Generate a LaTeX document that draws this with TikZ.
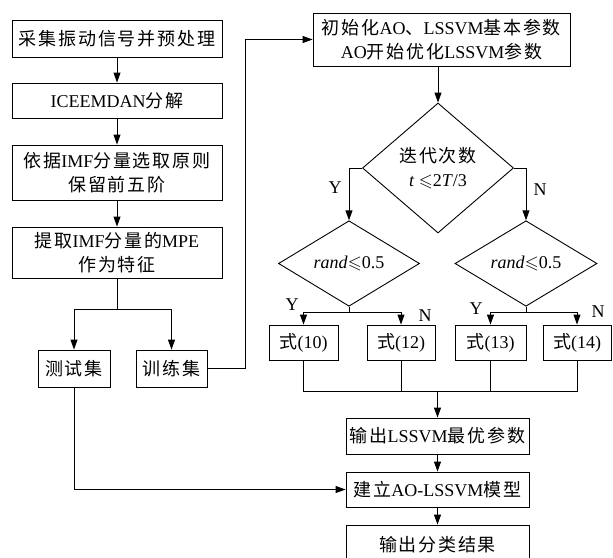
\documentclass[tikz,border=0pt]{standalone}
\usepackage{amssymb}
\usepackage{fontspec}
\setmainfont{Liberation Serif}
\newfontfamily\cjk[LetterSpace=10]{Noto Sans CJK SC}
\usetikzlibrary{shapes.geometric,arrows.meta}
\begin{document}
\begin{tikzpicture}[x=1pt,y=-1pt,
  every node/.style={font=\fontsize{18}{24}\selectfont},
  box/.style={draw, line width=0.9pt, inner sep=0pt, align=center},
  dia/.style={draw, line width=0.9pt, diamond, inner sep=0pt, align=center},
  conn/.style={line width=0.9pt},
  arr/.style={line width=0.9pt, -{Triangle[width=7pt,length=10pt]}},
  lab/.style={inner sep=0pt, font=\fontsize{18}{20}\selectfont}]
\useasboundingbox (0,0) rectangle (613,557);
\clip (0,0) rectangle (613,557);

% left column
\node[box, minimum width=210pt, minimum height=37pt] (b1) at (117,38.5) {{\cjk 采集振动信号并预处理}};
\node[box, minimum width=210pt, minimum height=35pt] (b2) at (117,100.5) {ICEEMDAN{\cjk 分解}};
\node[box, minimum width=210pt, minimum height=55pt] (b3) at (117,172.5) {{\cjk 依据}IMF{\cjk 分量选取原则}\\{\cjk 保留前五阶}};
\node[box, minimum width=210pt, minimum height=51pt] (b4) at (117,252.5) {{\cjk 提取}IMF{\cjk 分量的}MPE\\{\cjk 作为特征}};
\node[box, minimum width=72pt, minimum height=37pt] (test) at (74,368.5) {{\cjk 测试集}};
\node[box, minimum width=71pt, minimum height=37pt] (train) at (171.5,368.5) {{\cjk 训练集}};

% right part
\node[box, minimum width=257pt, minimum height=53pt] (init) at (441.5,39.5) {{\cjk 初始化}AO{\cjk 、}LSSVM{\cjk 基本参数}\\AO{\cjk 开始优化}LSSVM{\cjk 参数}};
\node[dia, minimum width=151pt, minimum height=130pt] (d1) at (438,168) {{\cjk 迭代次数}\\\textit{t} $\leqslant$2\textit{T}/3};
\node[dia, minimum width=141pt, minimum height=53pt] (d2) at (349,263.5) {\textit{rand}$\leqslant$0.5};
\node[dia, minimum width=142pt, minimum height=53pt] (d3) at (526,263.5) {\textit{rand}$\leqslant$0.5};
\node[box, minimum width=69pt, minimum height=35pt] (e10) at (303.5,342.5) {{\cjk 式}(10)};
\node[box, minimum width=68pt, minimum height=35pt] (e12) at (401,342.5) {{\cjk 式}(12)};
\node[box, minimum width=71pt, minimum height=35pt] (e13) at (490.5,342.5) {{\cjk 式}(13)};
\node[box, minimum width=68pt, minimum height=35pt] (e14) at (577,342.5) {{\cjk 式}(14)};
\node[box, minimum width=183pt, minimum height=36pt] (o1) at (437.5,436) {{\cjk 输出}LSSVM{\cjk 最优参数}};
\node[box, minimum width=183pt, minimum height=35pt] (o2) at (437.5,489.5) {{\cjk 建立}AO-LSSVM{\cjk 模型}};
\node[box, minimum width=183pt, minimum height=40pt] (o3) at (437.5,545) {{\cjk 输出分类结果}};

% labels
\node[lab] (ly1) at (335,188) {Y};
\node[lab] (ln1) at (540,190) {N};
\node[lab] (ly2) at (292,305) {Y};
\node[lab] (ln2) at (425,316) {N};
\node[lab] (ly3) at (476,309) {Y};
\node[lab] (ln3) at (598,312) {N};

% coordinates
\coordinate (split) at (117,309);
\coordinate (s2) at (349,312);
\coordinate (s3) at (526,312);
\coordinate (m) at (437.5,391);

% connectors left
\draw[arr] (b1) -- (b2);
\draw[arr] (b2) -- (b3);
\draw[arr] (b3) -- (b4);
\draw[conn] (b4.south) -- (split);
\draw[arr] (split) -| (test.north);
\draw[arr] (split) -| (train.north);
\draw[arr] (train.east) -- ++(38,0) |- (init.west);

% connectors right
\draw[arr] (init.south -| d1.north) -- (d1.north);
\draw[arr] (d1.west) -| (d2.north);
\draw[arr] (d1.east) -| (d3.north);
\draw[conn] (d2.south) -- (s2);
\draw[arr] (s2) -| (e10.north);
\draw[arr] (s2) -| (e12.north);
\draw[conn] (d3.south) -- (s3);
\draw[arr] (s3) -| (e13.north);
\draw[arr] (s3) -| (e14.north);
\draw[conn] (e10.south) -- (e10.south |- m) -- (e14.south |- m) -- (e14.south);
\draw[conn] (e12.south) -- (e12.south |- m);
\draw[conn] (e13.south) -- (e13.south |- m);
\draw[arr] (m) -- (o1.north);
\draw[arr] (o1) -- (o2);
\draw[arr] (o2) -- (o3);
\draw[arr] (test.south) |- (o2.west);
\end{tikzpicture}
\end{document}
